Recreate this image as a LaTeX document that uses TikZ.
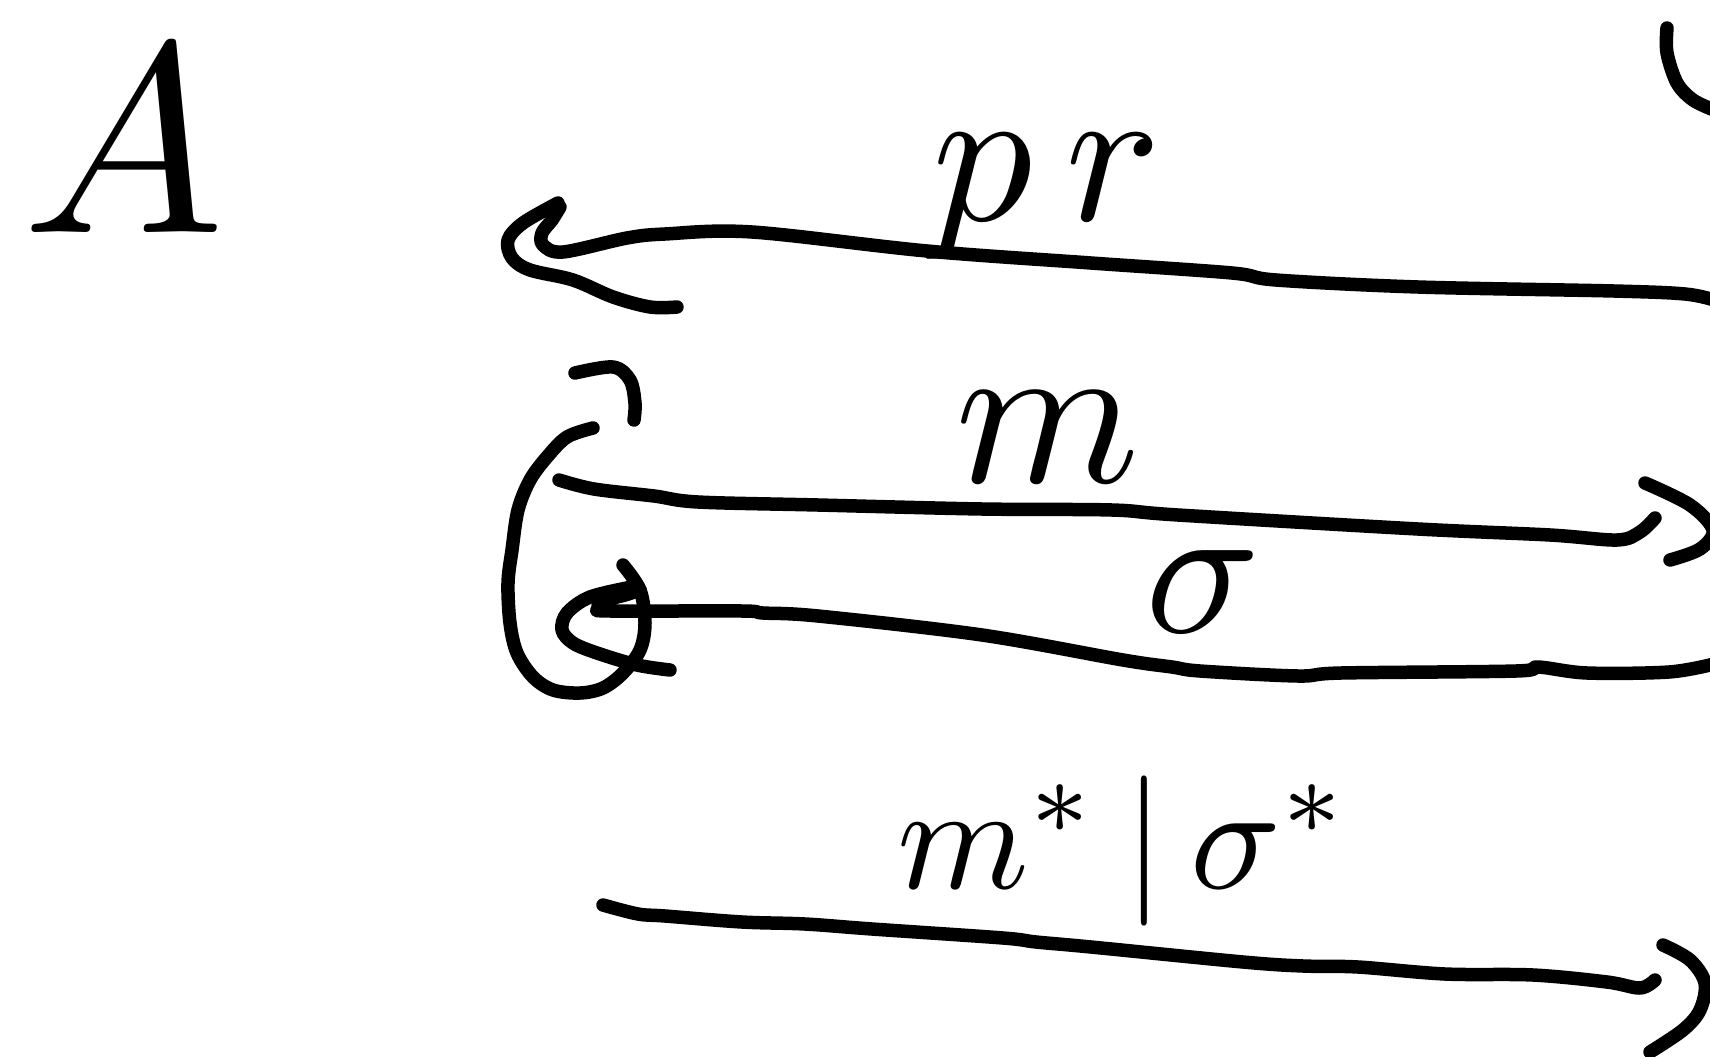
\documentclass[tikz,border=0pt]{standalone}
\tikzset{
  pen/.style={line width=13.5pt, line cap=round, line join=round},
  lbl/.style={inner sep=0pt, anchor=base},
  curve/.style={smooth, tension=0.55},
}
\begin{document}
\begin{tikzpicture}[x=1pt,y=-1pt]
\useasboundingbox (0,0) rectangle (1710,1057);
\fill[white] (0,0) rectangle (1710,1057);
\clip (0,0) rectangle (1710,1057);

% ---------- labels ----------
\node[lbl, scale=27] (A)   at (124,232) {$A$};
\node[lbl, scale=20] (pr)  at (1047,220) {$p\,r$};
\node[lbl, scale=21] (m)   at (1048,482) {$m$};
\node[lbl, scale=19] (sig) at (1203,632) {$\sigma$};
\node[lbl, scale=15] (adj) at (1124,888) {$m^{*}\,|\,\sigma^{*}$};

% ---------- end points ----------
\coordinate (prR) at (1714,300);
\coordinate (prL) at (560,207);
\coordinate (mL)  at (559,480);
\coordinate (mR)  at (1655,518);
\coordinate (sR)  at (1714,664);
\coordinate (sL)  at (640,590);
\coordinate (bL)  at (603,905);
\coordinate (bR)  at (1655,980);
\coordinate (loopS) at (623,565);
\coordinate (loopE) at (593,428);

% ---------- top arrow (pr), pointing left ----------
\draw[pen] plot[curve] coordinates {(prR) (1685,294) (1614,291) (1418,287) (1276,280) (1232,273)
  (1091,263) (927,251) (752,232) (665,234) (627,238) (563,252) (543,245) (542,233) (552,220) (prL)};
\draw[pen] plot[curve] coordinates {(558,203) (523,223) (508,240) (512,258) (530,270) (573,280)
  (613,297) (650,307) (677,307)};

% ---------- m arrow, pointing right ----------
\draw[pen] plot[curve] coordinates {(mL) (594,489) (654,496) (698,502) (818,505) (982,509) (1112,510)
  (1178,515) (1418,529) (1550,535) (1617,540) (1640,532) (mR)};
\draw[pen] plot[curve] coordinates {(1645,483) (1690,505) (1713,530) (1700,549) (1670,560)};

% ---------- sigma arrow, pointing left ----------
\draw[pen] plot[curve] coordinates {(sR) (1669,672) (1587,673) (1538,667) (1516,671) (1341,673)
  (1298,676) (1200,671) (1172,667) (1123,660) (982,635) (818,616) (763,613) (742,611)
  (611,611) (598,609) (603,601) (625,595) (sL)};
\draw[pen] plot[curve] coordinates {(632,587) (590,597) (567,613) (562,630) (573,643) (597,653)
  (637,665) (670,670)};

% ---------- circular arrow round the left end ----------
\draw[pen] plot[curve] coordinates {(loopS) (640,590) (645,623) (640,650) (623,673) (603,688)
  (580,693) (553,690) (533,677) (517,653) (510,623) (508,583) (512,550) (518,510) (530,480)
  (547,457) (567,437) (loopE)};
\draw[pen] plot[curve] coordinates {(575,373) (613,367) (630,380) (635,403) (634,420)};

% ---------- bottom arrow, pointing right ----------
\draw[pen] plot[curve] coordinates {(bL) (638,914) (665,916) (742,922) (805,924) (872,929) (1003,938)
  (1036,942) (1091,947) (1243,962) (1303,966) (1358,967) (1445,974) (1533,975) (1607,982)
  (1640,988) (bR)};
\draw[pen] plot[curve] coordinates {(1663,945) (1690,960) (1705,983) (1700,1010) (1683,1030) (1650,1052)};

% ---------- partial letter at the top right edge ----------
\draw[pen] plot[curve] coordinates {(1667,28) (1667,53) (1677,83) (1693,100) (1714,110)};
\end{tikzpicture}
\end{document}
